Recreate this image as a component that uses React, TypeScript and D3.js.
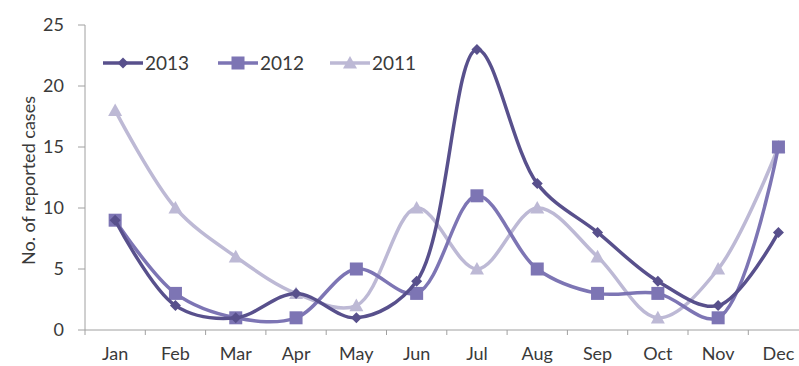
import React from "react";
import * as d3 from "d3";

const months = ["Jan", "Feb", "Mar", "Apr", "May", "Jun", "Jul", "Aug", "Sep", "Oct", "Nov", "Dec"];
const cases2013 = [9, 2, 1, 3, 1, 4, 23, 12, 8, 4, 2, 8];
const cases2012 = [9, 3, 1, 1, 5, 3, 11, 5, 3, 3, 1, 15];
const cases2011 = [18, 10, 6, 3, 2, 10, 5, 10, 6, 1, 5, 15];
const yTicks = [0, 5, 10, 15, 20, 25];
const seriesNames = ["2013", "2012", "2011"];

const W = 799;
const H = 366;
const left = 85;
const top = 25;
const bottom = 330;
const bandW = 60.3;

export default function App() {
  const x = d3.scaleBand<string>().domain(months).range([left, left + bandW * 12]).padding(0);
  const y = d3.scaleLinear().domain([0, 25]).range([bottom, top]);
  const cx = (m: string) => (x(m) as number) + x.bandwidth() / 2;
  const line = d3
    .line<number>()
    .x((_, i) => cx(months[i]))
    .y((d) => y(d))
    .curve(d3.curveCatmullRom.alpha(0.5));

  const series = [
    { name: seriesNames[0], data: cases2013, color: "#58508c", shape: "diamond" },
    { name: seriesNames[1], data: cases2012, color: "#7d75b4", shape: "square" },
    { name: seriesNames[2], data: cases2011, color: "#bdb9d5", shape: "triangle" },
  ];
  const draw = [series[2], series[1], series[0]];

  const marker = (shape: string, px: number, py: number, color: string, key: string) => {
    if (shape === "diamond") {
      const s = 5.5;
      return <path key={key} d={`M${px},${py - s}L${px + s},${py}L${px},${py + s}L${px - s},${py}Z`} fill={color} />;
    }
    if (shape === "square") {
      const s = 6.5;
      return <rect key={key} x={px - s} y={py - s} width={2 * s} height={2 * s} fill={color} />;
    }
    const s = 7;
    return <path key={key} d={`M${px},${py - s}L${px + s},${py + s * 0.8}L${px - s},${py + s * 0.8}Z`} fill={color} />;
  };

  const legendX = [103, 218, 330];
  const font = "Lato, 'Open Sans', sans-serif";
  const textColor = "#3a3a3a";

  return (
    <svg width={W} height={H} style={{ position: "absolute", left: 0, top: 0, background: "#fff" }} fontFamily={font}>
      {/* y axis */}
      <line x1={left} x2={left} y1={top} y2={bottom} stroke="#a0a0a0" strokeWidth={1} />
      {yTicks.map((t) => (
        <g key={t}>
          <line x1={left - 7} x2={left} y1={y(t)} y2={y(t)} stroke="#a0a0a0" />
          <text x={left - 21} y={y(t)} dy="0.36em" textAnchor="end" fontSize={18} fill={textColor}>
            {t}
          </text>
        </g>
      ))}
      <text
        transform={`translate(35,${(top + bottom) / 2 + 3}) rotate(-90)`}
        textAnchor="middle"
        fontSize={18}
        fill={textColor}
      >
        No. of reported cases
      </text>
      {/* x axis */}
      <line x1={left} x2={W} y1={bottom} y2={bottom} stroke="#a0a0a0" />
      {months.map((m) => (
        <g key={m}>
          <line x1={x(m) as number} x2={x(m) as number} y1={bottom} y2={bottom + 5} stroke="#a0a0a0" />
          <text x={cx(m)} y={bottom + 30} textAnchor="middle" fontSize={18} fill={textColor}>
            {m}
          </text>
        </g>
      ))}
      {/* series */}
      {draw.map((s) => (
        <g key={s.name}>
          <path d={line(s.data) || ""} fill="none" stroke={s.color} strokeWidth={3.5} />
          {s.data.map((v, i) => marker(s.shape, cx(months[i]), y(v), s.color, `${s.name}-${i}`))}
        </g>
      ))}
      {/* legend */}
      {series.map((s, i) => (
        <g key={`lg-${s.name}`}>
          <line x1={legendX[i]} x2={legendX[i] + 40} y1={63} y2={63} stroke={s.color} strokeWidth={3.5} />
          {marker(s.shape, legendX[i] + 20, 63, s.color, `lgm-${s.name}`)}
          <text x={legendX[i] + 42} y={63} dy="0.36em" fontSize={19} fill={textColor}>
            {s.name}
          </text>
        </g>
      ))}
    </svg>
  );
}
